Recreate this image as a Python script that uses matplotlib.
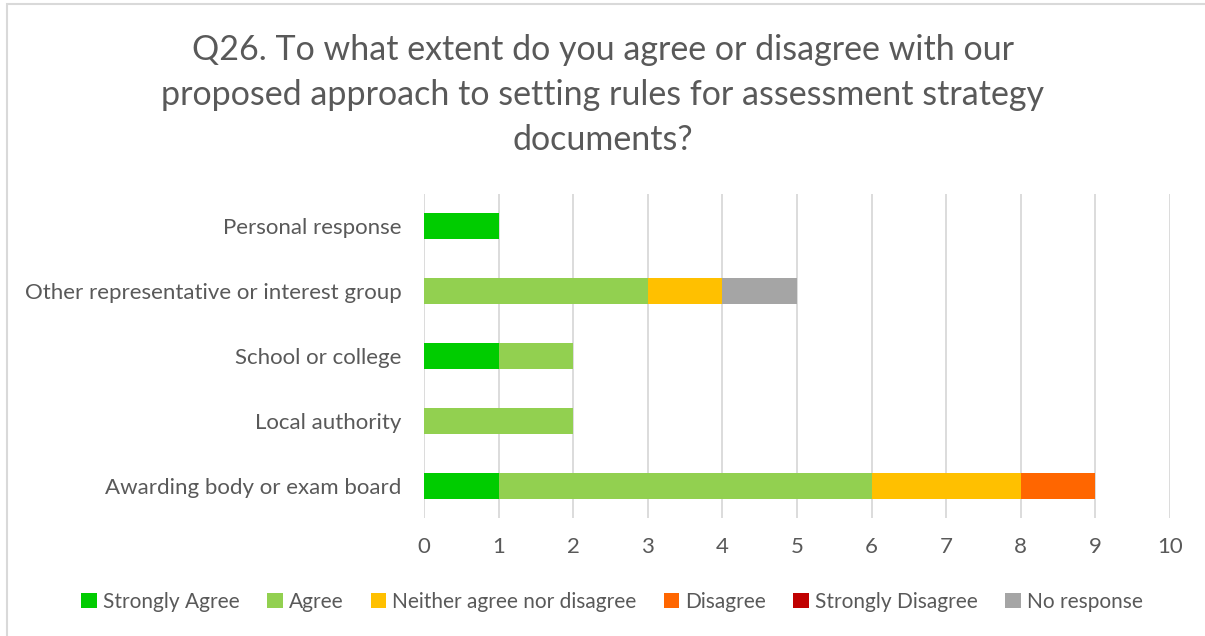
import matplotlib
matplotlib.use("Agg")
import matplotlib.pyplot as plt
import numpy as np
from matplotlib.patches import Rectangle

plt.rcParams["font.family"] = ["Lato", "DejaVu Sans"]

TEXT = "#595959"
GRID = "#D9D9D9"

categories = [
    "Personal response",
    "Other representative or interest group",
    "School or college",
    "Local authority",
    "Awarding body or exam board",
]
series_names = [
    "Strongly Agree",
    "Agree",
    "Neither agree nor disagree",
    "Disagree",
    "Strongly Disagree",
    "No response",
]
strongly_agree = [1, 0, 1, 0, 1]
agree = [0, 3, 1, 2, 5]
neither = [0, 1, 0, 0, 2]
disagree = [0, 0, 0, 0, 1]
strongly_disagree = [0, 0, 0, 0, 0]
no_response = [0, 1, 0, 0, 0]
x_ticks = list(range(0, 11))

series = [strongly_agree, agree, neither, disagree, strongly_disagree, no_response]
colors = ["#00CC00", "#92D050", "#FFC000", "#FF6600", "#C00000", "#A5A5A5"]

fig = plt.figure(figsize=(12.05, 6.36), dpi=100)
ax = fig.add_axes([424 / 1205, 1 - 518 / 636, (1170 - 424) / 1205, (518 - 194) / 636])

# light frame round the whole chart
fig.patches.append(Rectangle((7 / 1205, -0.1), 1.2, 1 - 4 / 636 + 0.1,
                             transform=fig.transFigure, fill=False,
                             edgecolor=GRID, lw=1.5))

y = np.arange(len(categories))
left = np.zeros(len(categories))
for name, vals, col in zip(series_names, series, colors):
    vals = np.array(vals, dtype=float)
    ax.barh(y, vals, left=left, height=0.4, color=col, label=name, zorder=3)
    left += vals

ax.set_ylim(len(categories) - 0.5, -0.5)
ax.set_yticks(y)
ax.set_yticklabels(categories)
ax.set_xlim(0, 10)
ax.set_xticks(x_ticks)
ax.grid(axis="x", color=GRID, lw=1.3, zorder=0)
for s in ax.spines.values():
    s.set_visible(False)
ax.tick_params(axis="both", length=0, labelsize=16, labelcolor=TEXT)
ax.tick_params(axis="x", pad=14)
ax.tick_params(axis="y", pad=16)

fig.text(0.5, 1 - 95 / 636,
         "Q26. To what extent do you agree or disagree with our\n"
         "proposed approach to setting rules for assessment strategy\n"
         "documents?",
         ha="center", va="center", fontsize=24.5, color=TEXT, linespacing=1.5)

fig.legend(loc="center", bbox_to_anchor=(0.508, 1 - 602 / 636), ncol=6,
           frameon=False, fontsize=15, labelcolor=TEXT,
           handlelength=0.75, handleheight=0.75, handletextpad=0.3,
           columnspacing=1.3)

fig.savefig("out.png", dpi=100)
